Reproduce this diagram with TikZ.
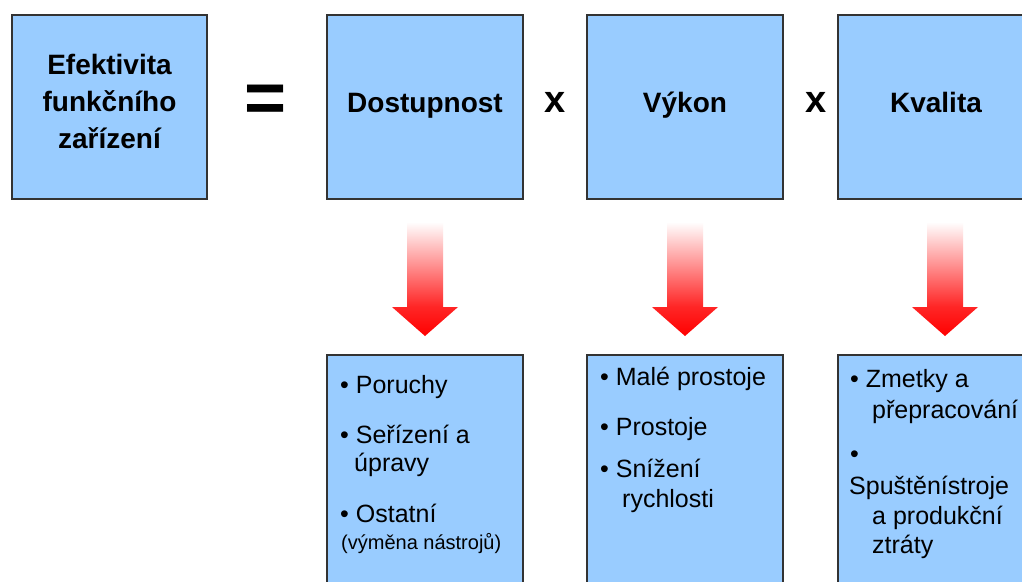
\documentclass[tikz,border=0pt]{standalone}
\usepackage{fontspec}
\setmainfont{Liberation Sans}
\definecolor{boxblue}{HTML}{99CCFF}
\definecolor{edge}{HTML}{333333}
\pgfdeclareverticalshading{arrowshade}{100bp}{color(0bp)=(red); color(25bp)=(red); color(38bp)=(red!85!white); color(75bp)=(white); color(100bp)=(white)}
\tikzset{
  box/.style={draw=edge, line width=1.2pt, fill=boxblue, minimum width=196pt, minimum height=184pt, inner sep=0pt},
  lowbox/.style={box, minimum height=250pt},
  headtxt/.style={font=\fontsize{28}{36.5}\selectfont\bfseries, anchor=base, inner sep=0pt},
  optxt/.style={font=\fontsize{38}{44}\selectfont\bfseries, anchor=base, inner sep=0pt},
  itemtxt/.style={font=\fontsize{25}{30}\selectfont, anchor=base west, inner sep=0pt},
  smalltxt/.style={font=\fontsize{20}{24}\selectfont, anchor=base west, inner sep=0pt},
  redarrow/.style={shading=arrowshade, draw=none}
}
\newcommand{\downarrowat}[1]{%
  \shade[redarrow] (#1-18,222) -- (#1+18,222) -- (#1+18,307) -- (#1+33,307) -- (#1,336) -- (#1-33,307) -- (#1-18,307) -- cycle;}
\begin{document}
\begin{tikzpicture}[x=1pt,y=-1pt]
\useasboundingbox (0,0) rectangle (1022,581);
\clip (0,0) rectangle (1022,581);
\fill[white] (0,0) rectangle (1022,581);
% top boxes
\node[box, minimum width=195pt] (eff) at (109.5,107) {};
\node[box] (dost) at (425,107) {};
\node[box] (vykon) at (685,107) {};
\node[box] (kval) at (936,107) {};
% top labels
\node[headtxt] (effa) at (109.5,74) {Efektivita};
\node[headtxt] (effb) at (109.5,111) {funkčního};
\node[headtxt] (effc) at (109.5,148) {zařízení};
\node[headtxt] (dostl) at (425,112) {Dostupnost};
\node[headtxt] (vykonl) at (685,112) {Výkon};
\node[headtxt] (kvall) at (936,112) {Kvalita};
% operators
\node[font=\fontsize{72}{80}\selectfont\bfseries, anchor=base, inner sep=0pt] (eq) at (266,122) {=};
\node[optxt] (x1) at (555,112) {x};
\node[optxt] (x2) at (816,112) {x};
% arrows
\downarrowat{425}
\downarrowat{685}
\downarrowat{945}
% bottom boxes
\node[lowbox] (dostb) at (425,480) {};
\node[lowbox] (vykonb) at (685,480) {};
\node[lowbox] (kvalb) at (936,480) {};
% Dostupnost items
\node[itemtxt] (d1) at (340,393) {• Poruchy};
\node[itemtxt] (d2) at (340,443) {• Seřízení a};
\node[itemtxt] (d3) at (354,471) {úpravy};
\node[itemtxt] (d4) at (340,522) {• Ostatní};
\node[smalltxt] (d5) at (341,549) {(výměna nástrojů)};
% Vykon items
\node[itemtxt] (v1) at (600,385) {• Malé prostoje};
\node[itemtxt] (v2) at (600,435) {• Prostoje};
\node[itemtxt] (v3) at (600,477) {• Snížení};
\node[itemtxt] (v4) at (622,507) {rychlosti};
% Kvalita items
\node[itemtxt] (k1) at (850,387) {• Zmetky a};
\node[itemtxt] (k2) at (872,418) {přepracování};
\node[itemtxt] (k3) at (850,462) {•};
\node[itemtxt] (k4) at (849,494) {Spuštěnístroje};
\node[itemtxt] (k5) at (872,524) {a produkční};
\node[itemtxt] (k6) at (872,553) {ztráty};
\end{tikzpicture}
\end{document}
